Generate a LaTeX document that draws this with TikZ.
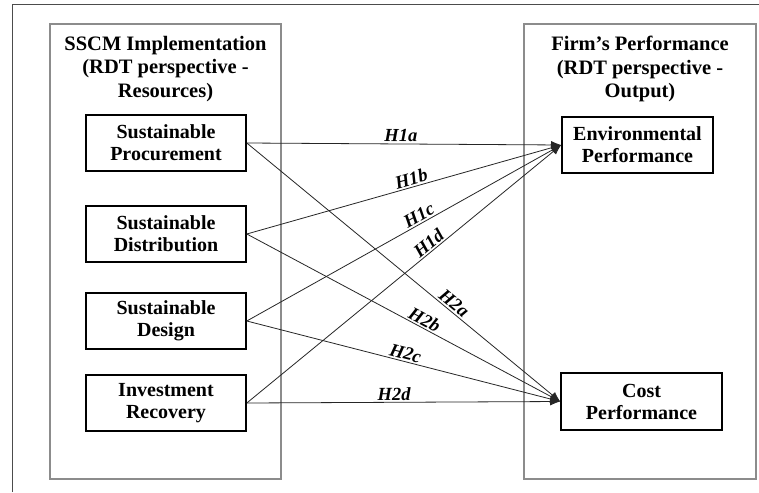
\documentclass[tikz,border=0pt]{standalone}
\usepackage{fontspec}
\setmainfont{Liberation Serif}
\usetikzlibrary{arrows.meta}
\begin{document}
\begin{tikzpicture}[x=1pt,y=-1pt,
  groupbox/.style={draw=black!45,line width=1.3pt},
  itembox/.style={draw=black,line width=1.6pt,minimum width=160pt,minimum height=56pt,inner sep=0pt,align=center,font=\fontsize{20}{22}\selectfont\bfseries},
  titletext/.style={align=center,font=\fontsize{20.5}{23.5}\selectfont\bfseries},
  hyp/.style={draw=black!85,line width=0.8pt,-{Latex[length=10pt,width=8pt]}},
  hlabel/.style={sloped,above,inner sep=1.5pt,font=\fontsize{18.5}{20}\selectfont\bfseries\itshape}]
\useasboundingbox (0,0) rectangle (759,492);
\fill[white] (0,0) rectangle (759,492);
% outer frame
\draw[black!70,line width=1pt] (12,492) -- (12,5) -- (759,5);
% groups
\draw[groupbox] (50,24) rectangle (281,479);
\draw[groupbox] (524,24) rectangle (756,479);
\node[titletext] (tl) at (165.5,69) {SSCM Implementation\\(RDT perspective -\\Resources)};
\node[titletext] (tr) at (640,69) {Firm’s Performance\\(RDT perspective -\\Output)};
% items
\node[itembox] (sp) at (166,143) {Sustainable\\Procurement};
\node[itembox] (sd) at (166,234) {Sustainable\\Distribution};
\node[itembox] (sg) at (166,321) {Sustainable\\Design};
\node[itembox] (ir) at (166,403) {Investment\\Recovery};
\node[itembox,minimum width=151pt] (ep) at (637.5,145) {Environmental\\Performance};
\node[itembox,minimum width=161pt,minimum height=57pt] (cp) at (641.5,401.5) {Cost\\Performance};
% hypotheses
\draw[hyp] (sp.east) -- node[hlabel,pos=0.49] {H1a} (ep.west);
\draw[hyp] (sd.east) -- node[hlabel,pos=0.53] {H1b} (ep.west);
\draw[hyp] (sg.east) -- node[hlabel,pos=0.56] {H1c} (ep.west);
\draw[hyp] (ir.east) -- node[hlabel,pos=0.595] {H1d} (ep.west);
\draw[hyp] (sp.east) -- node[hlabel,pos=0.645] {H2a} (cp.west);
\draw[hyp] (sd.east) -- node[hlabel,pos=0.555] {H2b} (cp.west);
\draw[hyp] (sg.east) -- node[hlabel,pos=0.5] {H2c} (cp.west);
\draw[hyp] (ir.east) -- node[hlabel,pos=0.47] {H2d} (cp.west);
\end{tikzpicture}
\end{document}
